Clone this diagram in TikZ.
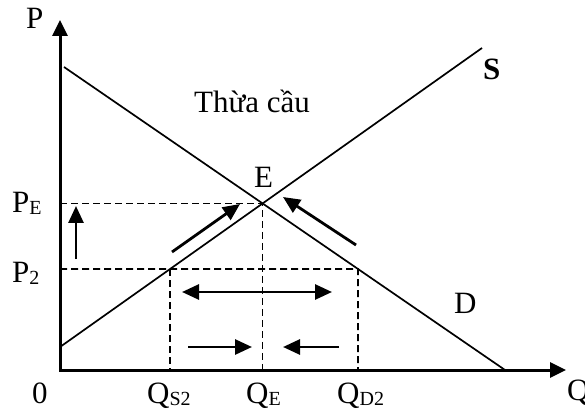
\documentclass[tikz,border=0pt]{standalone}
\usepackage{fontspec}
\setmainfont{Liberation Serif}
\usetikzlibrary{calc, intersections, arrows.meta}
\newcommand{\chiso}[1]{\raisebox{-2pt}{\fontsize{20}{22}\selectfont #1}}

\begin{document}
\begin{tikzpicture}[x=1pt, y=-1pt, font=\fontsize{31}{34}\selectfont,
    nhan/.style={anchor=base west, inner sep=0pt},
    truc/.style={line width=3pt, {Triangle[length=16pt,width=15pt]}-{Triangle[length=16pt,width=15pt]}},
    duong/.style={line width=1.7pt},
    gach/.style={line width=1.6pt, dash pattern=on 7pt off 4pt},
    muiten/.style={line width=2.8pt, -{Triangle[length=17pt,width=15pt]}}]
    \useasboundingbox (0,0) rectangle (585,411);

    % --- 1. Gốc O và hai trục P, Q ---
    \coordinate (O) at (60,370);
    \coordinate (Ptop) at (60,20);
    \coordinate (Qend) at (566,370);
    \draw[truc] (Ptop) -- (O) -- (Qend);

    % --- 2. Đường cung S, đường cầu D ---
    \coordinate (S1) at (60,347);
    \coordinate (S2) at (482,48);
    \coordinate (D1) at (64,67);
    \coordinate (D2) at (505,370);
    \draw[duong, name path=S] (S1) -- (S2);
    \draw[duong, name path=D] (D1) -- (D2);

    % --- 3. Điểm cân bằng E ---
    \path[name intersections={of=S and D, by=E}];

    % --- 4. Mức giá P2: điểm A trên S, B trên D ---
    \def\yP{269}
    \path[name path=mucP] (60,\yP) -- (585,\yP);
    \path[name intersections={of=S and mucP, by=A}];
    \path[name intersections={of=D and mucP, by=B}];

    % --- 5. Nét đứt ---
    \draw[gach] (E -| O) -- (E) -- (E |- O);
    \draw[gach] (A -| O) -- (B) -- (B |- O);
    \draw[gach] (A) -- (A |- O);

    % --- 6. Mũi tên điều chỉnh ---
    \coordinate (u1) at (76,259);  \coordinate (u2) at (76,206);
    \coordinate (s1) at (172,252); \coordinate (s2) at (240,204);
    \coordinate (d1) at (356,245); \coordinate (d2) at (283,197);
    \coordinate (h1) at (182,292); \coordinate (h2) at (332,292);
    \coordinate (r1) at (188,347); \coordinate (r2) at (252,347);
    \coordinate (l1) at (339,347); \coordinate (l2) at (283,347);
    \draw[muiten] (u1) -- (u2);
    \draw[muiten] (s1) -- (s2);
    \draw[muiten] (d1) -- (d2);
    \draw[muiten, {Triangle[length=17pt,width=15pt]}-{Triangle[length=17pt,width=15pt]}] (h1) -- (h2);
    \draw[muiten] (r1) -- (r2);
    \draw[muiten] (l1) -- (l2);

    % --- 7. Nhãn ---
    \node[nhan] (lP) at (26,29) {P};
    \node[nhan] (lPE) at (12,213) {P\chiso{E}};
    \node[nhan] (lP2) at (12,282) {P\chiso{2}};
    \node[nhan] (l0) at (32,403) {0};
    \node[nhan] (lQS) at (147,403) {Q\chiso{S2}};
    \node[nhan] (lQE) at (246,403) {Q\chiso{E}};
    \node[nhan] (lQD) at (337,403) {Q\chiso{D2}};
    \node[nhan] (lQ) at (567,400) {Q};
    \node[nhan] (lthua) at (194,113) {Thừa cầu};
    \node[nhan] (lE) at (254,188) {E};
    \node[nhan, font=\fontsize{31}{34}\selectfont\bfseries] (lS) at (483,80) {S};
    \node[nhan] (lD) at (454,313) {D};
\end{tikzpicture}
\end{document}
